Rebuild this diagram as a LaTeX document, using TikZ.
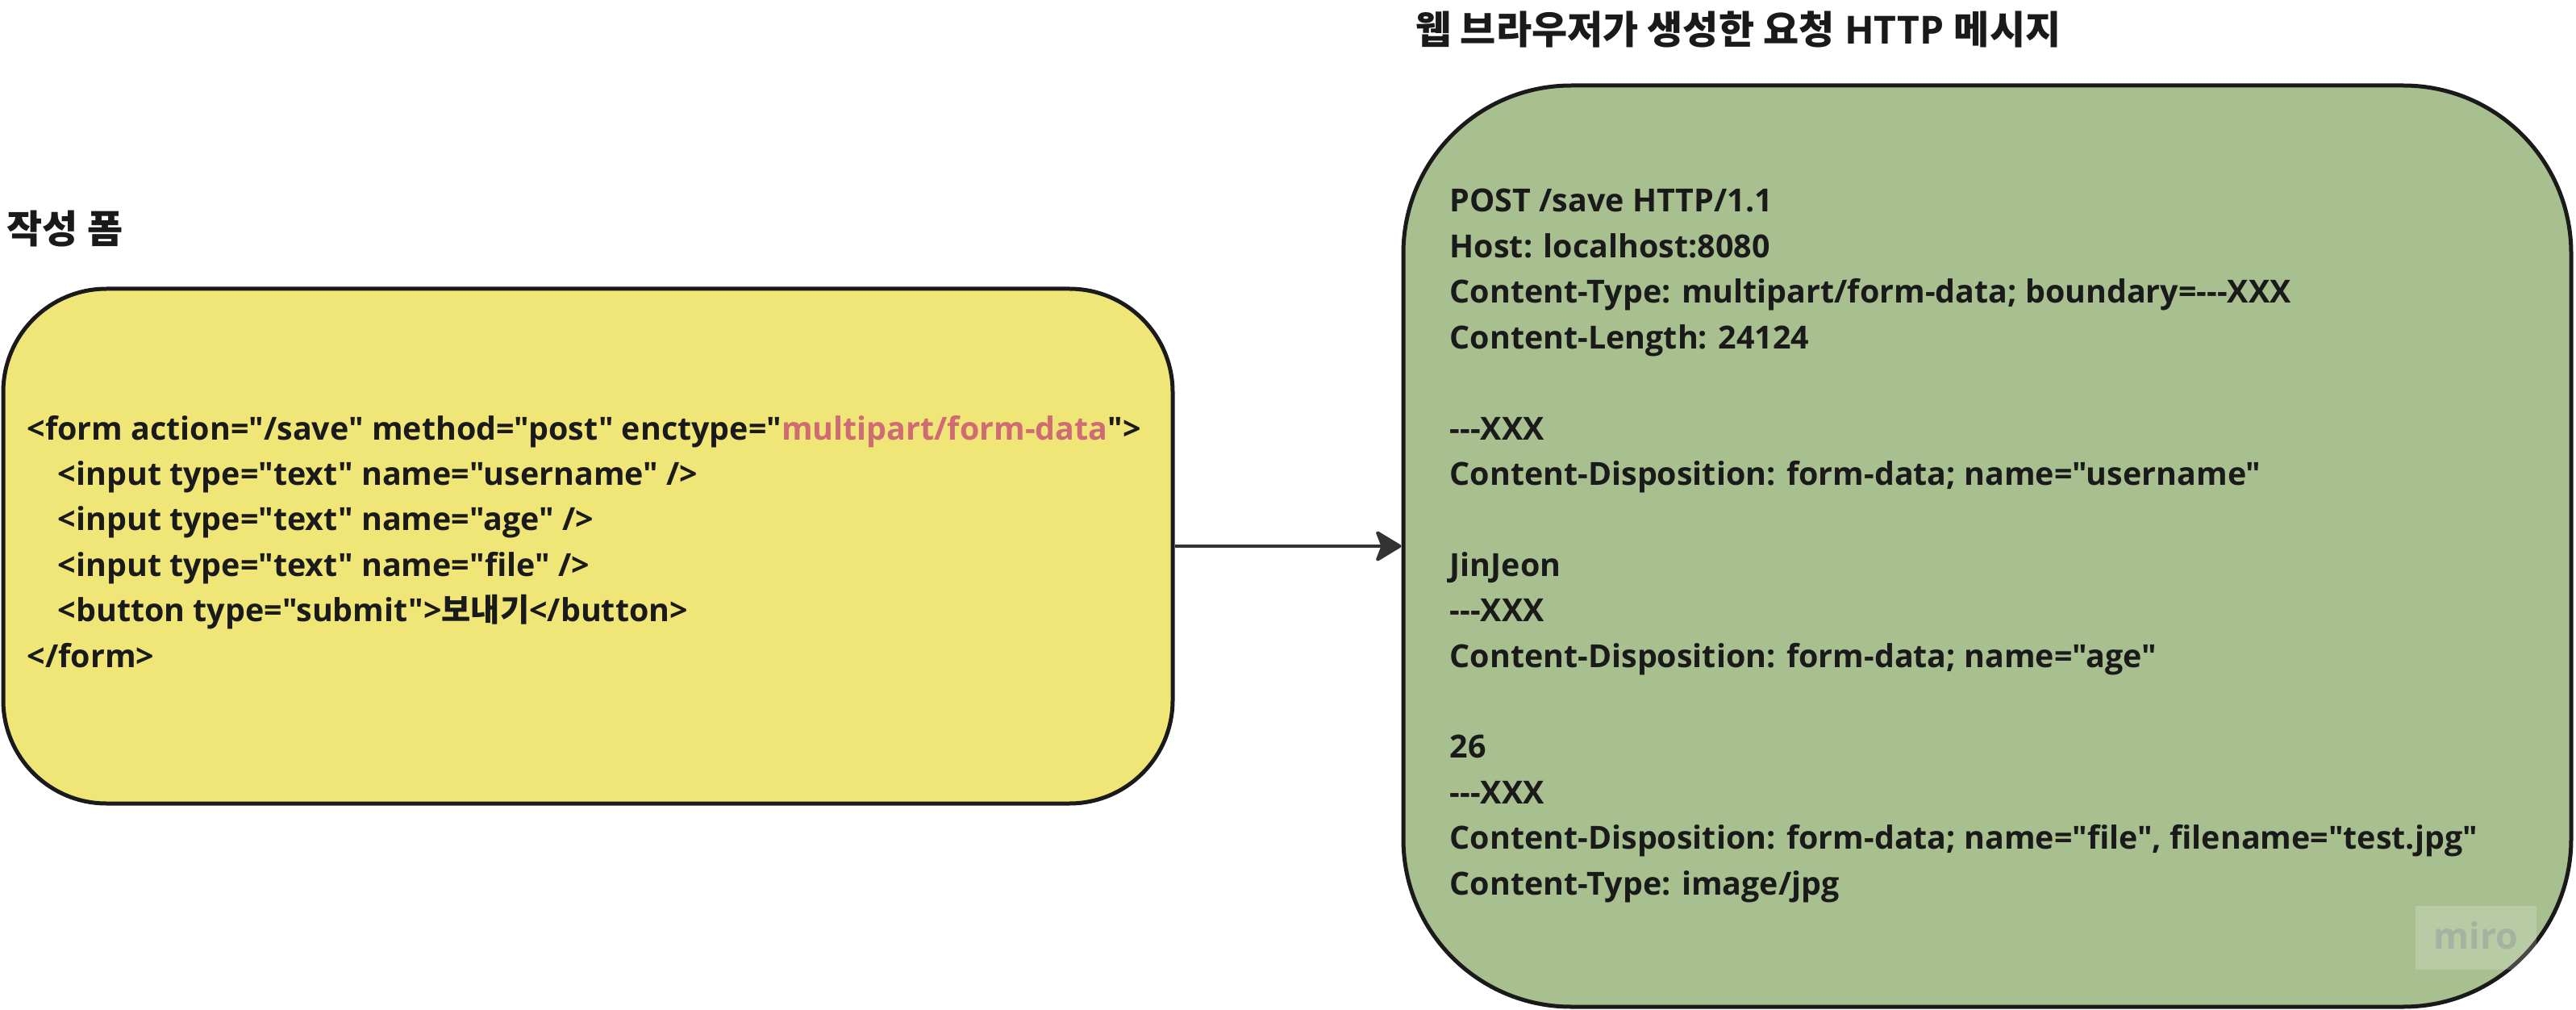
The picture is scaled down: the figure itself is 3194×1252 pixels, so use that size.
\documentclass[tikz,border=0pt]{standalone}
\usepackage{fontspec}
\setmainfont{Open Sans}[Ligatures=TeXOff]
\newfontfamily\kr{Noto Sans CJK KR}
\usetikzlibrary{arrows.meta}
\definecolor{ink}{HTML}{1A1A1A}
\definecolor{yfill}{HTML}{F0E577}
\definecolor{gfill}{HTML}{A8BF8F}
\definecolor{pinky}{HTML}{CF6B72}
\definecolor{arrowc}{HTML}{333333}
\definecolor{mirotext}{HTML}{A6B1A0}
\newcommand\bodyfont{\fontsize{9.85}{14}\selectfont\bfseries}
\newcommand\titlefont{\fontsize{12}{14}\selectfont\bfseries}
\tikzset{
  box/.style={draw=ink, line width=1.25pt, inner sep=0pt},
  ln/.style={anchor=base west, inner sep=0pt, font=\bodyfont, text=ink},
  ttl/.style={anchor=base west, inner sep=0pt, font=\titlefont, text=ink},
  arr/.style={draw=arrowc, line width=1pt, -{Stealth[length=8.75pt, width=10.5pt, inset=2pt, round]}}
}
\begin{document}
\begin{tikzpicture}[x=0.25pt, y=-0.25pt]
\useasboundingbox (0,0) rectangle (3194,1252);
% titles
\node[ttl] (t1) at (8,302) {\kr 작성 폼};
\node[ttl] (t2) at (1755,55) {{\kr 웹 브라우저가 생성한 요청} HTTP {\kr 메시지}};
% boxes
\node[box, fill=yfill, rounded corners=32pt, minimum width=362.5pt, minimum height=159.5pt] (yb) at (729,677) {};
\node[box, fill=gfill, rounded corners=52pt, minimum width=362pt, minimum height=285.5pt] (gb) at (2464,677) {};
% arrow
\draw[arr] (yb.east) -- (gb.west);
% form text
\node[ln] (f1) at (33,545) {<form action="/save" method="post" enctype="\textcolor{pinky}{multipart/form-data}">};
\node[ln] (f2) at (71,601.4) {<input type="text" name="username" />};
\node[ln] (f3) at (71,657.8) {<input type="text" name="age" />};
\node[ln] (f4) at (71,714.2) {<input type="text" name="file" />};
\node[ln] (f5) at (71,770.6) {<button type="submit">{\kr 보내기}</button>};
\node[ln] (f6) at (33,827) {</form>};
% http text
\node[ln] (h1) at (1797,263) {POST /save HTTP/1.1};
\node[ln] (h2) at (1797,319.4) {Host: localhost:8080};
\node[ln] (h3) at (1797,375.8) {Content-Type: multipart/form-data; boundary=---XXX};
\node[ln] (h4) at (1797,432.2) {Content-Length: 24124};
\node[ln] (h5) at (1797,545) {---XXX};
\node[ln] (h6) at (1797,601.4) {Content-Disposition: form-data; name="username"};
\node[ln] (h7) at (1797,714.2) {JinJeon};
\node[ln] (h8) at (1797,770.6) {---XXX};
\node[ln] (h9) at (1797,827) {Content-Disposition: form-data; name="age"};
\node[ln] (h10) at (1797,939.8) {26};
\node[ln] (h11) at (1797,996.2) {---XXX};
\node[ln] (h12) at (1797,1052.6) {Content-Disposition: form-data; name="file", filename="test.jpg"};
\node[ln] (h13) at (1797,1109) {Content-Type: image/jpg};
% watermark
\node[fill=white, fill opacity=0.2, minimum width=37.5pt, minimum height=19.75pt, inner sep=0pt] (wm) at (3070,1162.5) {};
\node[anchor=base, inner sep=0pt, font=\fontsize{11.2}{12}\selectfont\bfseries, text=mirotext] (wmt) at (3070,1176) {miro};
\end{tikzpicture}
\end{document}
